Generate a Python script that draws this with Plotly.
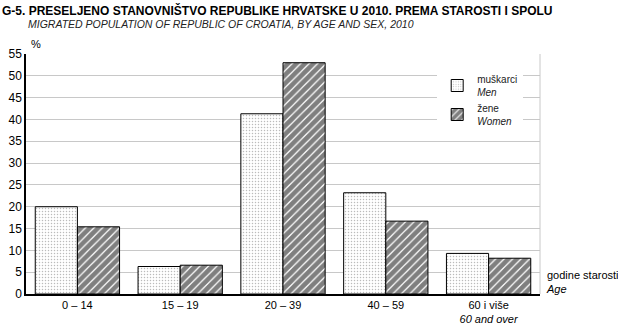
import plotly.graph_objects as go

# Age groups (x axis) and shares of migrated population, %
age_groups = ["0 – 14", "15 – 19", "20 – 39", "40 – 59", "60 i više<br><i>60 and over</i>"]
men = [20.0, 6.3, 41.3, 23.2, 9.3]
women = [15.4, 6.6, 53.0, 16.7, 8.2]
y_ticks = [0, 5, 10, 15, 20, 25, 30, 35, 40, 45, 50, 55]

FONT = "Liberation Sans, Arial, sans-serif"

fig = go.Figure()
fig.add_trace(go.Bar(
    x=age_groups, y=men, name="muškarci<br><i>Men</i>",
    marker=dict(color="white", line=dict(color="black", width=1),
                pattern=dict(shape=".", size=3, solidity=0.2,
                             fgcolor="#777777", bgcolor="white")),
))
fig.add_trace(go.Bar(
    x=age_groups, y=women, name="žene<br><i>Women</i>",
    marker=dict(color="white", line=dict(color="black", width=1),
                pattern=dict(shape="/", size=6, solidity=0.8,
                             fgcolor="black", bgcolor="white")),
))

fig.update_layout(
    width=618, height=326,
    margin=dict(l=26, r=78, t=54, b=32, autoexpand=False),
    paper_bgcolor="white", plot_bgcolor="white",
    font=dict(family=FONT, size=11, color="black"),
    barmode="group", bargap=0.18, bargroupgap=0,
    showlegend=True,
    legend=dict(x=0.80, y=0.95, xanchor="left", yanchor="top",
                bgcolor="white", borderwidth=0,
                font=dict(size=10, color="#222"),
                tracegroupgap=10, itemwidth=30),
    xaxis=dict(range=[-0.5, 4.5], showgrid=False, ticks="", automargin=False,
               showline=True, linecolor="black", linewidth=1.5,
               tickfont=dict(size=11), mirror=False),
    yaxis=dict(range=[0, 55], tickvals=y_ticks, showgrid=True, automargin=False,
               gridcolor="#c8c8c8", gridwidth=1, zeroline=False,
               showline=True, linecolor="black", linewidth=1.5,
               ticks="", tickfont=dict(size=12)),
    shapes=[dict(type="line", xref="paper", yref="paper", x0=1, x1=1, y0=0, y1=1,
                 line=dict(color="#c8c8c8", width=1))],
    annotations=[
        dict(text="<b>G-5. PRESELJENO STANOVNIŠTVO REPUBLIKE HRVATSKE U 2010. PREMA STAROSTI I SPOLU</b>",
             xref="paper", yref="paper", x=-26/514, y=1 + 44/240, xanchor="left", yanchor="middle",
             showarrow=False, font=dict(size=12, family=FONT)),
        dict(text="<i>MIGRATED POPULATION OF REPUBLIC OF CROATIA, BY AGE AND SEX, 2010</i>",
             xref="paper", yref="paper", x=0, y=1 + 30/240, xanchor="left", yanchor="middle",
             showarrow=False, font=dict(size=10.5, family=FONT, color="#222")),
        dict(text="%", xref="paper", yref="paper", x=0.005, y=1 + 10/240,
             xanchor="left", yanchor="middle", showarrow=False, font=dict(size=11)),
        dict(text="godine starosti<br><i>Age</i>", xref="paper", yref="paper",
             x=1 + 4/514, y=-3/240, xanchor="left", yanchor="bottom", align="left",
             showarrow=False, font=dict(size=11)),
    ],
)

fig.write_html("out.html")
